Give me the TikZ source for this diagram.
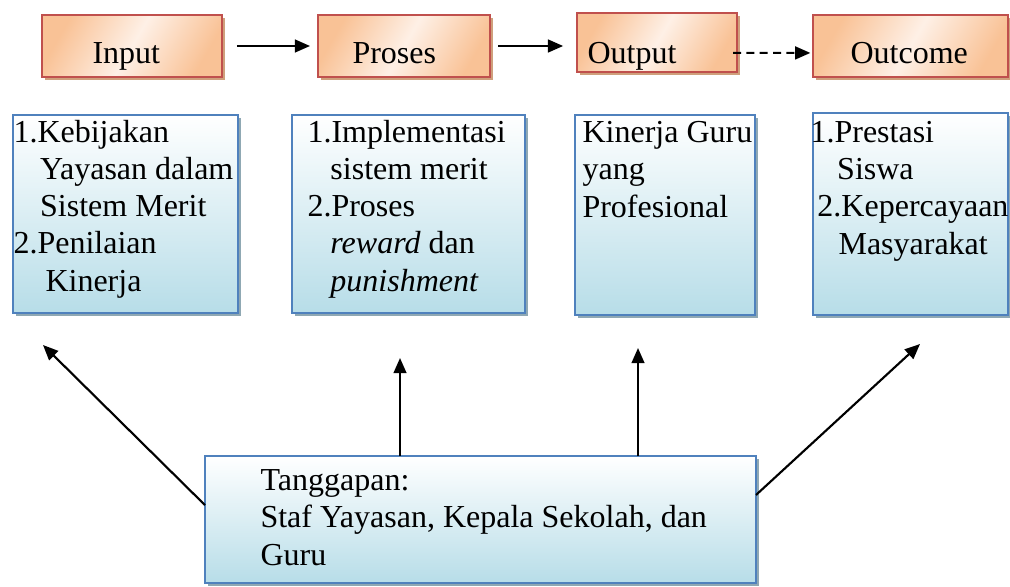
\documentclass[tikz,border=0pt]{standalone}
\usepackage{fontspec}
\setmainfont{Liberation Serif}
\usetikzlibrary{
    arrows.meta,
    shadows,
    fit,
    positioning
}
\definecolor{orEdge}{HTML}{C0504D}
\definecolor{orDark}{HTML}{F9C296}
\definecolor{orLight}{HTML}{FEF0E6}
\definecolor{orShadow}{HTML}{CFA07C}
\definecolor{blEdge}{HTML}{4F81BD}
\definecolor{blFill}{HTML}{B7DDE8}
\definecolor{blShadow}{HTML}{8FA8B3}
\tikzset{
    stage/.style={draw=orEdge, line width=0.9pt, inner sep=0pt, outer sep=0pt,
        left color=orDark, right color=orDark, middle color=orLight, shading angle=60,
        drop shadow={shadow xshift=1.2pt, shadow yshift=-1.2pt, fill=orShadow, opacity=1}},
    detail/.style={draw=blEdge, line width=0.9pt, inner sep=0pt, outer sep=0pt,
        top color=white, bottom color=blFill,
        drop shadow={shadow xshift=1.2pt, shadow yshift=-1.2pt, fill=blShadow, opacity=1}},
    txt/.style={anchor=base west, inner sep=0pt, align=left, font=\fontsize{12}{13.9}\selectfont},
    arr/.style={-{Triangle[length=5.7pt, width=4.8pt]}, line width=0.8pt}
}

\begin{document}
\begin{tikzpicture}[x=0.375pt, y=-0.375pt]
    \useasboundingbox (0, 0) rectangle (1010, 586);

    % stages
    \node[stage, fit={(42, 15) (222, 77)}] (inBox) {};
    \node[stage, fit={(318, 15) (490, 77)}] (prBox) {};
    \node[stage, fit={(577, 13) (737, 72)}] (outBox) {};
    \node[stage, fit={(813, 15) (1008, 77)}] (ocBox) {};
    \node[txt] (inLbl) at (92, 63) {Input};
    \node[txt] (prLbl) at (352, 63) {Proses};
    \node[txt] (outLbl) at (587, 63) {Output};
    \node[txt] (ocLbl) at (850, 63) {Outcome};

    % details (anchored at the baseline of the last line)
    \node[detail, fit={(13, 115) (238, 313)}] (inDet) {};
    \node[detail, fit={(292, 115) (525, 313)}] (prDet) {};
    \node[detail, fit={(575, 115) (755, 315)}] (outDet) {};
    \node[detail, fit={(813, 113) (1008, 315)}] (ocDet) {};
    \node[txt] (inTxt) at (13, 291) {1.Kebijakan\\
        \hspace*{10pt}Yayasan dalam\\
        \hspace*{10pt}Sistem Merit\\
        2.Penilaian\\
        \hspace*{12pt}Kinerja};
    \node[txt] (prTxt) at (307, 291) {1.Implementasi\\
        \hspace*{8.6pt}sistem merit\\
        2.Proses\\
        \hspace*{8.6pt}\textit{reward} dan\\
        \hspace*{8.6pt}\textit{punishment}};
    \node[txt] (outTxt) at (582, 217) {Kinerja Guru\\yang\\Profesional};
    \node[txt] (ocTxt) at (810, 254) {1.Prestasi\\
        \hspace*{10pt}Siswa\\
        \hspace*{2.6pt}2.Kepercayaan\\
        \hspace*{10.5pt}Masyarakat};

    % respondents
    \node[detail, fit={(205, 456) (756, 583)}] (tgBox) {};
    \node[txt] (tgTxt) at (260, 565) {Tanggapan:\\Staf Yayasan, Kepala Sekolah, dan\\Guru};

    \coordinate (tipA) at (43, 345);
    \coordinate (tipB) at (400, 358);
    \coordinate (tipC) at (638, 348);
    \coordinate (tipD) at (920, 344);

    \draw[arr] ([xshift=5.6pt]inBox.east) -- ([xshift=-3pt]prBox.west);
    \draw[arr] ([xshift=3pt]prBox.east) -- ([xshift=-5.2pt]prBox.east -| outBox.west);
    \draw[arr, dash pattern=on 3pt off 2pt] ([xshift=-1.5pt, yshift=-3.9pt]outBox.east)
        -- ([xshift=-1pt, yshift=-2.6pt]ocBox.west);
    \draw[arr] ([yshift=5.4pt]tgBox.west) -- (tipA);
    \draw[arr] (tipB |- tgBox.north) -- (tipB);
    \draw[arr] (tipC |- tgBox.north) -- (tipC);
    \draw[arr] ([yshift=9.2pt]tgBox.east) -- (tipD);
\end{tikzpicture}
\end{document}
